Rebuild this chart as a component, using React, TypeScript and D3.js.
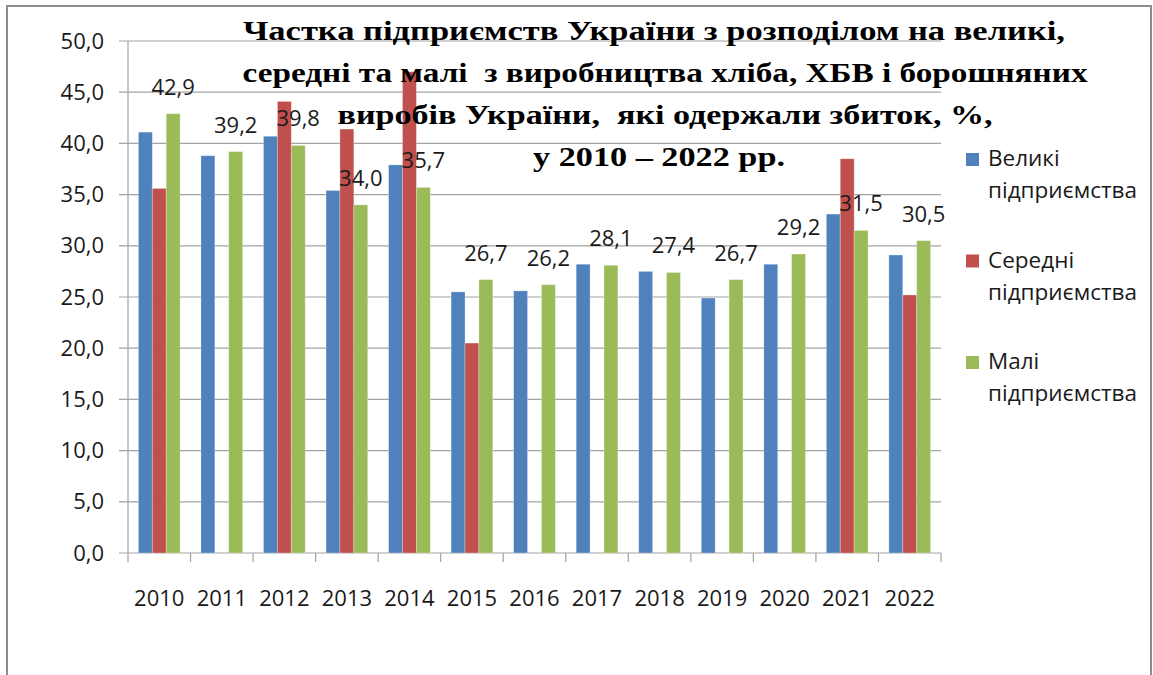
import React from "react";
import * as d3 from "d3";

const years = ["2010","2011","2012","2013","2014","2015","2016","2017","2018","2019","2020","2021","2022"];
const large: (number | null)[] = [41.1, 38.8, 40.7, 35.4, 37.9, 25.5, 25.6, 28.2, 27.5, 24.9, 28.2, 33.1, 29.1];
const medium: (number | null)[] = [35.6, null, 44.1, 41.4, 47.0, 20.5, null, null, null, null, null, 38.5, 25.2];
const small: (number | null)[] = [42.9, 39.2, 39.8, 34.0, 35.7, 26.7, 26.2, 28.1, 27.4, 26.7, 29.2, 31.5, 30.5];
const seriesNames = ["Великі підприємства", "Середні підприємства", "Малі підприємства"];
const yTicks = [0, 5, 10, 15, 20, 25, 30, 35, 40, 45, 50];
const titleLines = [
  "Частка підприємств України з розподілом на великі,",
  "середні та малі  з виробництва хліба, ХБВ і борошняних",
  "виробів України,  які одержали збиток, %,",
  "у 2010 – 2022 рр.",
];
const titleCenters = [654, 665, 665, 659];
const titleWidths = [822, 845, 655, 252];

const colors = ["#4F81BD", "#C0504D", "#9BBB59"];

export default function App() {
  const W = 1153, H = 675;
  const left = 128, right = 941, top = 41, bottom = 553;
  const x = d3.scaleBand<string>().domain(years).range([left, right]).paddingInner(0).paddingOuter(0);
  const y = d3.scaleLinear().domain([0, 50]).range([bottom, top]);
  const bw = x.bandwidth() / 4.5;
  const sub = d3.scaleBand<number>().domain([0, 1, 2]).range([0.75 * bw, 3.75 * bw]);
  const series = [large, medium, small];
  const fmt = (v: number) => d3.format(".1f")(v).replace(".", ",");
  const font = "'Open Sans', sans-serif";

  return (
    <div style={{ position: "absolute", left: 0, top: 0 }}>
      <svg width={W} height={H} style={{ display: "block", background: "#fff" }}>
        <rect x={7} y={6} width={1144} height={H + 20} fill="#fff" stroke="#8c8c8c" strokeWidth={2} />
        {/* gridlines */}
        {yTicks.map((t) => (
          <g key={t}>
            <line x1={left - 9} x2={right} y1={y(t)} y2={y(t)} stroke="#a3a3a3" strokeWidth={1.2} />
            <text x={104} y={y(t) + 7.5} textAnchor="end" fontFamily={font} fontSize={22} fill="#1a1a1a">
              {fmt(t)}
            </text>
          </g>
        ))}
        {/* y axis */}
        <line x1={left} x2={left} y1={top} y2={bottom} stroke="#a3a3a3" strokeWidth={1.2} />
        {/* x ticks */}
        {years.map((yr) => (
          <line key={yr} x1={x(yr)!} x2={x(yr)!} y1={bottom} y2={bottom + 9} stroke="#a3a3a3" strokeWidth={1.2} />
        ))}
        <line x1={right} x2={right} y1={bottom} y2={bottom + 9} stroke="#a3a3a3" strokeWidth={1.2} />
        {/* bars */}
        {series.map((s, si) =>
          s.map((v, i) =>
            v == null ? null : (
              <rect
                key={si + "-" + i}
                x={x(years[i])! + sub(si)!}
                y={y(v)}
                width={sub.bandwidth()}
                height={y(0) - y(v)}
                fill={colors[si]}
                stroke="rgba(255,255,255,0.35)"
                strokeWidth={0.8}
              />
            )
          )
        )}
        {/* data labels for small enterprises */}
        {small.map((v, i) =>
          v == null ? null : (
            <text
              key={"l" + i}
              x={x(years[i])! + sub(2)! + sub.bandwidth() / 2}
              y={y(v) - 19}
              textAnchor="middle"
              fontFamily={font}
              fontSize={22}
              fill="#1a1a1a"
            >
              {fmt(v)}
            </text>
          )
        )}
        {/* x labels */}
        {years.map((yr) => (
          <text key={"x" + yr} x={x(yr)! + x.bandwidth() / 2} y={606} textAnchor="middle" fontFamily={font} fontSize={22} fill="#1a1a1a">
            {yr}
          </text>
        ))}
        {/* title */}
        {titleLines.map((t, i) => (
          <text
            key={"t" + i}
            x={titleCenters[i]}
            y={39.5 + i * 42.2}
            textAnchor="middle"
            textLength={titleWidths[i]}
            lengthAdjust="spacingAndGlyphs"
            fontFamily="'Liberation Serif', 'Times New Roman', serif"
            fontWeight="bold"
            fontSize={28}
            fill="#000"
            style={{ whiteSpace: "pre" }}
          >
            {t}
          </text>
        ))}
        {/* legend */}
        {seriesNames.map((n, i) => {
          const [w1, w2] = n.split(" ");
          const by = 166 + i * 101.5;
          return (
            <g key={"lg" + i}>
              <rect x={966} y={by - 13} width={13} height={13} fill={colors[i]} />
              <text x={988} y={by} fontFamily={font} fontSize={22.5} fill="#1a1a1a">{w1}</text>
              <text x={988} y={by + 32} fontFamily={font} fontSize={22.5} fill="#1a1a1a">{w2}</text>
            </g>
          );
        })}
      </svg>
    </div>
  );
}
